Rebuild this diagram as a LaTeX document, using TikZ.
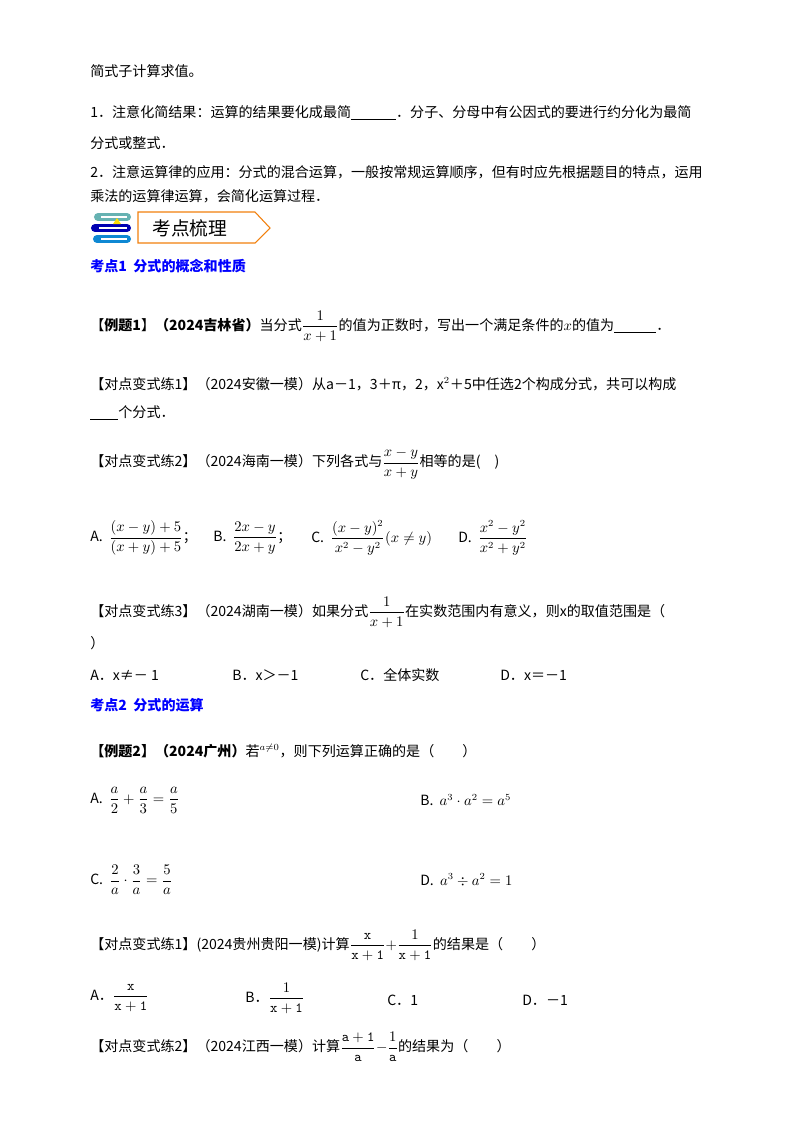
\documentclass[tikz,border=0pt]{standalone}
\usepackage{fontspec}
\usepackage{amsmath}
\newfontfamily\cjk{Noto Sans CJK SC}
\usetikzlibrary{positioning}
\tikzset{
  txt/.style={anchor=west, inner sep=0pt, font=\cjk\fontsize{10.5pt}{12pt}\selectfont},
  head/.style={txt, text=blue, font=\cjk\bfseries\fontsize{10.5pt}{12pt}\selectfont},
  book/.style={line width=6pt, line cap=round}
}
\begin{document}
\begin{tikzpicture}[x=0.02625cm, y=-0.02625cm]
  \useasboundingbox[fill=white] (0,0) rectangle (800,1132);
  % intro text
  \node[txt] (l1) at (90,71) {简式子计算求值。};
  \node[txt] (l2) at (90,113) {1．注意化简结果：运算的结果要化成最简\underline{\hspace{3.2em}}．分子、分母中有公因式的要进行约分化为最简};
  \node[txt] (l3) at (90,143) {分式或整式．};
  \node[txt] (l4) at (90,172) {2．注意运算律的应用：分式的混合运算，一般按常规运算顺序，但有时应先根据题目的特点，运用};
  \node[txt] (l5) at (90,196) {乘法的运算律运算，会简化运算过程．};
  % banner
  \draw[book, teal!60] (98,217) -- (127,217);
  \draw[book, blue!70!black] (95,228) -- (127,228);
  \draw[book, cyan!70!blue] (97,239) -- (127,239);
  \draw[white, thick] (101,217) -- (127,217) (99,228) -- (127,228) (101,239) -- (127,239);
  \fill[yellow!80!orange] (113,224) -- (117,218) -- (121,224) -- cycle;
  \draw[orange!80!brown, thick] (138,212) -- (255,212) -- (270,228) -- (255,243) -- (138,243) -- cycle;
  \node[txt, font=\cjk\fontsize{14pt}{16pt}\selectfont] (ban) at (152,228) {考点梳理};
  % section 1
  \node[head] (s1) at (90,266) {考点1\ \ 分式的概念和性质};
  \node[txt] (e1) at (90,326) {【\textbf{例题1}】\textbf{（2024吉林省）}当分式$\dfrac{1}{x+1}$的值为正数时，写出一个满足条件的$x$的值为\underline{\hspace{3em}}．};
  \node[txt] (p1) at (90,384) {【对点变式练1】（2024安徽一模）从a－1，3＋π，2，x$^2$＋5中任选2个构成分式，共可以构成};
  \node[txt] (p1b) at (90,413) {\underline{\hspace{2em}}个分式．};
  \node[txt] (p2) at (90,464) {【对点变式练2】（2024海南一模）下列各式与$\dfrac{x-y}{x+y}$相等的是(\quad)};
  \node[txt] (o2a) at (90,538) {A.\ \ $\dfrac{(x-y)+5}{(x+y)+5}$；};
  \node[txt] (o2b) at (213,538) {B.\ \ $\dfrac{2x-y}{2x+y}$；};
  \node[txt] (o2c) at (311,538) {C.\ \ $\dfrac{(x-y)^2}{x^2-y^2}(x\neq y)$};
  \node[txt] (o2d) at (458,538) {D.\ \ $\dfrac{x^2-y^2}{x^2+y^2}$};
  \node[txt] (p3) at (90,612) {【对点变式练3】（2024湖南一模）如果分式$\dfrac{1}{x+1}$在实数范围内有意义，则x的取值范围是（};
  \node[txt] (p3b) at (90,643) {）};
  \node[txt] (o3a) at (90,675) {A．x≠－ 1};
  \node[txt] (o3b) at (232,675) {B．x＞－1};
  \node[txt] (o3c) at (360,675) {C．全体实数};
  \node[txt] (o3d) at (500,675) {D．x＝－1};
  % section 2
  \node[head] (s2) at (90,705) {考点2\ \ 分式的运算};
  \node[txt] (e2) at (90,751) {\textbf{【例题2】（2024广州）}若$^{a\neq0}$，则下列运算正确的是（\qquad）};
  \node[txt] (o4a) at (90,800) {A.\ \ $\dfrac{a}{2}+\dfrac{a}{3}=\dfrac{a}{5}$};
  \node[txt] (o4b) at (420,800) {B.\ \ $a^3\cdot a^2=a^5$};
  \node[txt] (o4c) at (90,880) {C.\ \ $\dfrac{2}{a}\cdot\dfrac{3}{a}=\dfrac{5}{a}$};
  \node[txt] (o4d) at (420,880) {D.\ \ $a^3\div a^2=1$};
  \node[txt] (q1) at (90,945) {【对点变式练1】(2024贵州贵阳一模)计算$\dfrac{\mathtt{x}}{\mathtt{x+1}}{+}\dfrac{1}{\mathtt{x+1}}$的结果是（\qquad）};
  \node[txt] (q1a) at (90,998) {A．$\dfrac{\mathtt{x}}{\mathtt{x+1}}$};
  \node[txt] (q1b) at (245,998) {B．$\dfrac{1}{\mathtt{x+1}}$};
  \node[txt] (q1c) at (387,1000) {C．1};
  \node[txt] (q1d) at (522,1000) {D．－1};
  \node[txt] (q2) at (90,1047) {【对点变式练2】（2024江西一模）计算$\dfrac{\mathtt{a+1}}{\mathtt{a}}{-}\dfrac{1}{\mathtt{a}}$的结果为（\qquad）};
\end{tikzpicture}
\end{document}
